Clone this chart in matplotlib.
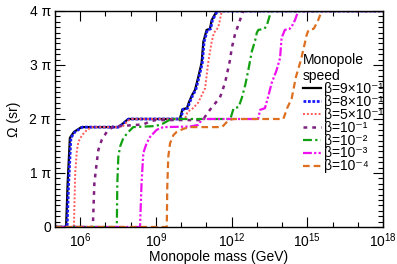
import matplotlib
matplotlib.use("Agg")
import matplotlib.pyplot as plt
import numpy as np

plt.rcParams['font.family'] = ['Liberation Sans', 'DejaVu Sans']
plt.rcParams['mathtext.fontset'] = 'custom'
plt.rcParams['mathtext.rm'] = 'Liberation Sans'
plt.rcParams['mathtext.it'] = 'Liberation Sans'

# log10(mass / GeV) and solid angle in units of pi
lm_09 = [5.0, 5.44, 5.5, 5.59, 5.75, 6.05, 7.5, 7.65, 7.85, 7.9, 9.95, 10.05, 10.23, 10.3,
         10.43, 10.55, 10.67, 10.81, 10.88, 11.01, 11.14, 11.21, 11.41, 18]
om_09 = [0, 0, 0.8, 1.65, 1.76, 1.85, 1.85, 1.9, 1.98, 2.0, 2.0, 2.18, 2.2, 2.3,
         2.44, 2.54, 2.76, 3.04, 3.43, 3.65, 3.67, 3.83, 4.0, 4.0]

lm_08 = [5.0, 5.48, 5.54, 5.63, 5.79, 6.09, 7.52, 7.67, 7.87, 7.93, 9.98, 10.08, 10.26, 10.33,
         10.46, 10.58, 10.7, 10.84, 10.91, 11.04, 11.17, 11.24, 11.44, 18]
om_08 = om_09

lm_05 = [5.0, 5.75, 5.8, 5.87, 5.93, 6.07, 6.27, 6.47, 7.5, 7.7, 7.9, 8.05, 10.15, 10.25,
         10.47, 10.67, 10.95, 11.07, 11.21, 11.3, 11.41, 11.5, 11.61, 18]
om_05 = [0, 0, 1.0, 1.43, 1.58, 1.7, 1.8, 1.85, 1.85, 1.87, 1.97, 2.0, 2.0, 2.13,
         2.2, 2.3, 2.57, 3.04, 3.43, 3.6, 3.65, 3.75, 4.0, 4.0]

lm_1 = [5.0, 6.5, 6.56, 6.65, 6.72, 6.85, 7.05, 7.3, 8.5, 8.8, 9.0, 10.85, 11.14, 11.54,
        11.74, 11.94, 12.0, 12.13, 12.33, 12.46, 18]
om_1 = [0, 0, 0.81, 1.18, 1.43, 1.61, 1.76, 1.86, 1.9, 1.96, 1.98, 1.98, 2.17, 2.4,
        2.67, 3.1, 3.3, 3.56, 3.83, 4.0, 4.0]

lm_2 = [5.0, 7.45, 7.47, 7.51, 7.58, 7.71, 7.91, 8.1, 9.0, 9.3, 9.6, 11.95, 12.08, 12.28,
        12.41, 12.55, 12.68, 12.8, 12.93, 13.0, 13.06, 13.3, 13.4, 13.52, 13.59, 18]
om_2 = [0, 0, 0.81, 1.3, 1.49, 1.65, 1.76, 1.85, 1.87, 1.92, 2.0, 2.0, 2.2, 2.22,
        2.4, 2.65, 2.95, 3.25, 3.45, 3.6, 3.65, 3.67, 3.74, 3.93, 4.0, 4.0]

lm_3 = [5.0, 8.37, 8.43, 8.5, 8.63, 8.77, 9.03, 9.29, 10.35, 10.67, 10.81, 10.87, 13.05, 13.13,
        13.32, 13.44, 13.59, 13.78, 13.92, 13.98, 14.11, 14.3, 14.38, 14.51, 14.64, 18]
om_3 = [0, 0, 0.81, 1.37, 1.55, 1.67, 1.8, 1.85, 1.86, 1.89, 1.98, 2.0, 2.0, 2.17,
        2.2, 2.4, 2.67, 2.9, 3.13, 3.5, 3.65, 3.67, 3.71, 3.83, 4.0, 4.0]

lm_4 = [5.0, 9.43, 9.45, 9.49, 9.56, 9.69, 9.82, 10.1, 10.35, 11.62, 11.86, 12.06, 14.05, 14.2,
        14.38, 14.55, 14.75, 14.9, 14.97, 15.05, 15.25, 15.3, 15.43, 15.57, 18]
om_4 = [0, 0, 0.75, 1.3, 1.55, 1.7, 1.76, 1.82, 1.85, 1.85, 1.97, 2.0, 2.0, 2.2,
        2.38, 2.78, 3.1, 3.4, 3.55, 3.65, 3.67, 3.71, 3.83, 4.0, 4.0]

labels = ['β=9×10⁻¹', 'β=8×10⁻¹', 'β=5×10⁻¹', 'β=10⁻¹', 'β=10⁻²', 'β=10⁻³', 'β=10⁻⁴']
x_ticks = [6, 9, 12, 15, 18]
y_ticks = [0, 1, 2, 3, 4]
y_ticklabels = ['0', '1 π', '2 π', '3 π', '4 π']

series = [(lm_09, om_09), (lm_08, om_08), (lm_05, om_05), (lm_1, om_1),
          (lm_2, om_2), (lm_3, om_3), (lm_4, om_4)]
colors = ['black', '#1a1aff', '#ff5a5a', '#802080', '#10a010', '#ee10ee', '#dd7020']
styles = ['-', (0, (1, 0.6)), (0, (1, 1)), (0, (1.5, 2, 1.5, 2)), (0, (4, 1.5, 1, 1.5)),
          (0, (4, 1, 1, 1, 1, 1)), (0, (3, 1.8))]
widths = [1.6, 2.0, 1.4, 1.8, 1.6, 1.6, 1.6]

fig = plt.figure(figsize=(3.97, 2.64), dpi=100)
ax = fig.add_axes([55/397, 37/264, 328/397, 216/264])

for (lm, om), c, ls, lw, lab in zip(series, colors, styles, widths, labels):
    ax.plot(10**np.array(lm), om, color=c, linestyle=ls, linewidth=lw, label=lab)

ax.set_xscale('log')
ax.set_xlim(1e5, 1e18)
ax.set_ylim(0, 4)
ax.set_xticks([10.0**k for k in x_ticks])
ax.set_xticklabels([r'10$^{%d}$' % k for k in x_ticks], fontsize=10)
ax.set_xticks([10.0**k for k in range(5, 19)], minor=True)
ax.set_yticks(y_ticks)
ax.set_yticklabels(y_ticklabels, fontsize=10)
ax.set_yticks(np.arange(0, 4.01, 0.1), minor=True)
ax.tick_params(which='both', direction='in', top=True, right=True, width=0.8)
ax.tick_params(which='major', length=7, pad=3)
ax.tick_params(which='minor', length=3.5)
ax.xaxis.set_tick_params(which='minor', labelbottom=False)
for s in ax.spines.values():
    s.set_linewidth(1.0)

ax.set_xlabel('Monopole mass (GeV)', fontsize=10, labelpad=0)
ax.set_ylabel('Ω (sr)', fontsize=10, labelpad=6)

leg = ax.legend(loc='upper left', bbox_to_anchor=(296/397, 218/264), bbox_transform=fig.transFigure,
                title='Monopole\nspeed', frameon=False, fontsize=10, title_fontsize=10,
                handlelength=1.3, handletextpad=0.2, labelspacing=-0.08, borderpad=0,
                alignment='left')

fig.savefig('out.png', dpi=100)
